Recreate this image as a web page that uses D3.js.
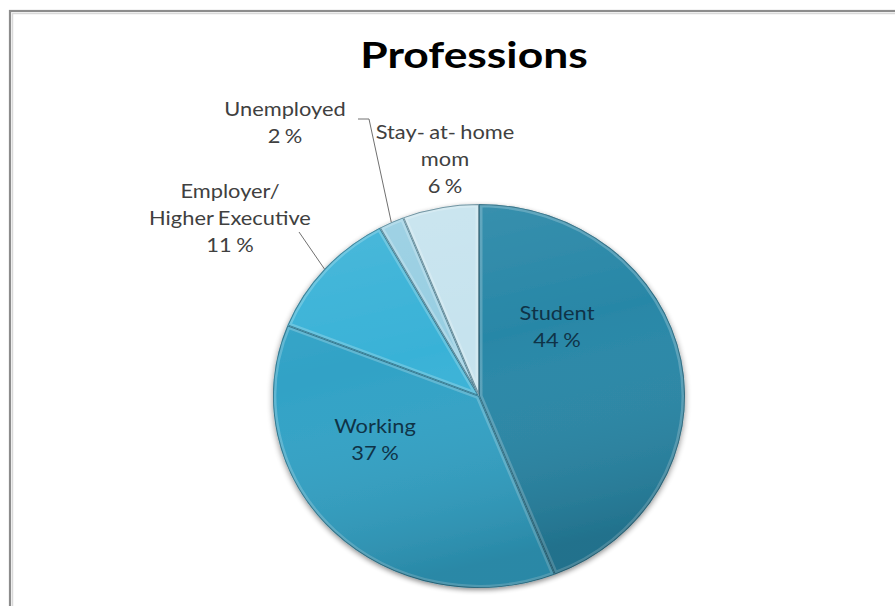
<!DOCTYPE html>
<html>
<head>
<meta charset="utf-8">
<script src="https://cdn.jsdelivr.net/npm/d3@7"></script>
<style>
  body { margin: 0; background: #ffffff; }
  svg { display: block; }
</style>
</head>
<body>
<script>
// Profession shares, drawn clockwise from 12 o'clock
const categories = ["Student", "Working", "Employer/\nHigher Executive", "Unemployed", "Stay- at- home\nmom"];
const shares = [44, 37, 11, 2, 6];
const sliceColors = ["#2887a7", "#31a2c6", "#39b2d7", "#97cee2", "#c6e3ee"];

// Label placement (anchor of first text line, optional leader start)
const labelLayout = [
  { x: 557, y: 320, inside: true },
  { x: 375, y: 433, inside: true },
  { x: 230, y: 198, inside: false, leader: [299, 232] },
  { x: 285, y: 116, inside: false, leader: [369, 119], tick: [358, 119] },
  { x: 445, y: 139, inside: false }
];

const W = 895, H = 606;
const cx = 479, cy = 396, rx = 206, ry = 192;
const FONT = "Lato, 'Open Sans', sans-serif";
const textStretch = 1.12;

const svg = d3.select("body").append("svg")
  .attr("width", W).attr("height", H);

const defs = svg.append("defs");

// Soft shadow under the pie
const shadow = defs.append("filter").attr("id", "pieShadow")
  .attr("x", "-10%").attr("y", "-10%").attr("width", "120%").attr("height", "125%");
shadow.append("feGaussianBlur").attr("in", "SourceAlpha").attr("stdDeviation", 3).attr("result", "b");
shadow.append("feOffset").attr("in", "b").attr("dx", 0).attr("dy", 2).attr("result", "o");
shadow.append("feComponentTransfer").attr("in", "o").attr("result", "s")
  .append("feFuncA").attr("type", "linear").attr("slope", 0.45);
const merge = shadow.append("feMerge");
merge.append("feMergeNode").attr("in", "s");
merge.append("feMergeNode").attr("in", "SourceGraphic");

// Top-to-bottom shading across the whole pie
const shade = defs.append("linearGradient").attr("id", "pieShade")
  .attr("x1", 0).attr("y1", 0).attr("x2", 0.25).attr("y2", 1);
shade.append("stop").attr("offset", "0%").attr("stop-color", "#ffffff").attr("stop-opacity", 0.10);
shade.append("stop").attr("offset", "45%").attr("stop-color", "#ffffff").attr("stop-opacity", 0.0);
shade.append("stop").attr("offset", "100%").attr("stop-color", "#000000").attr("stop-opacity", 0.16);

// Chart frame
svg.append("rect")
  .attr("x", 10).attr("y", 11).attr("width", W).attr("height", H)
  .attr("fill", "none").attr("stroke", "#8c8c8c").attr("stroke-width", 2.2);
svg.append("rect")
  .attr("x", 12.5).attr("y", 13.5).attr("width", W).attr("height", H)
  .attr("fill", "none").attr("stroke", "#d9d9d9").attr("stroke-width", 1.5);

// Text block anchored at (x, y), slightly widened horizontally
function stretchedText(x, y) {
  return svg.append("g")
    .attr("transform", `translate(${x},${y}) scale(${textStretch},1)`)
    .append("text")
    .attr("x", 0).attr("y", 0)
    .attr("text-anchor", "middle")
    .attr("word-spacing", -1)
    .attr("font-family", FONT);
}

// Title
svg.append("g")
  .attr("transform", "translate(474,68) scale(1.2,1)")
  .append("text")
  .attr("text-anchor", "middle")
  .attr("font-family", FONT)
  .attr("font-weight", 700)
  .attr("font-size", 37)
  .attr("fill", "#000000")
  .text("Professions");

const pie = d3.pie().sort(null).value(d => d)(shares);
const arc = d3.arc().innerRadius(0).outerRadius(rx);

// Pie drawn in a circle, squeezed vertically into an ellipse
const pieG = svg.append("g")
  .attr("transform", `translate(${cx},${cy}) scale(1,${ry / rx})`);

const pieBody = pieG.append("g").attr("filter", "url(#pieShadow)");

pie.forEach((p, i) => {
  defs.append("clipPath").attr("id", "clip" + i)
    .append("path").attr("d", arc(p));
});

const slices = pieBody.selectAll("g.slice").data(pie).join("g").attr("class", "slice");

slices.append("path")
  .attr("d", arc)
  .attr("fill", (d, i) => sliceColors[i]);

// Whole-pie shading overlay
pieBody.append("circle").attr("r", rx).attr("fill", "url(#pieShade)");

// Bevel: light inner rim and dark edge on every slice
slices.append("path")
  .attr("d", arc)
  .attr("clip-path", (d, i) => `url(#clip${i})`)
  .attr("fill", "none")
  .attr("stroke", "#ffffff").attr("stroke-opacity", 0.22)
  .attr("stroke-width", 7);
slices.append("path")
  .attr("d", arc)
  .attr("clip-path", (d, i) => `url(#clip${i})`)
  .attr("fill", "none")
  .attr("stroke", "#0e3f52").attr("stroke-opacity", 0.55)
  .attr("stroke-width", 2);

// Point on the ellipse at the middle of a slice
function rimPoint(p) {
  const a = (p.startAngle + p.endAngle) / 2;
  return [cx + Math.sin(a) * rx, cy - Math.cos(a) * ry];
}

// Leader lines
pie.forEach((p, i) => {
  const L = labelLayout[i];
  if (!L.leader) return;
  const end = rimPoint(p);
  const pts = L.tick ? [L.tick, L.leader, end] : [L.leader, end];
  svg.append("path")
    .attr("d", d3.line()(pts))
    .attr("fill", "none")
    .attr("stroke", "#707070")
    .attr("stroke-width", 1);
});

// Data labels: category name then percentage
const lineStep = 27;
pie.forEach((p, i) => {
  const L = labelLayout[i];
  const lines = categories[i].split("\n").concat([shares[i] + " %"]);
  const t = stretchedText(L.x, L.y)
    .attr("font-size", 19.5)
    .attr("fill", L.inside ? "#0f3347" : "#404040");
  lines.forEach((s, k) => {
    t.append("tspan").attr("x", 0).attr("dy", k === 0 ? 0 : lineStep).text(s);
  });
});
</script>
</body>
</html>
